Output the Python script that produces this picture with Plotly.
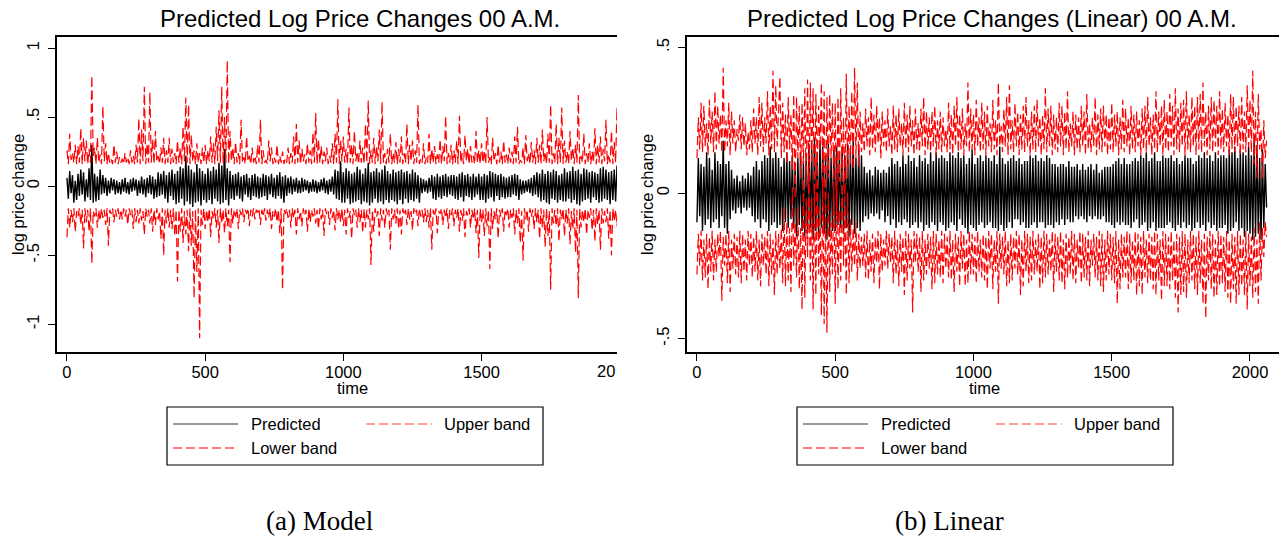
import plotly.graph_objects as go

# ---------------- data (one reading every 5 time units) ----------------
TIME = list(range(0, 2061, 5))

# Panel (a) Model
L_pred = [
    .06, -.09, .11, -.05, .08, -.12, .04, -.10, .09, -.07, .12, -.06, .10, -.11, .05, -.08, .13, -.10, .30, -.12,
    .09, -.11, .07, -.10, .12, -.06, .08, -.05, .06, -.07, .04, -.05, .06, -.03, .05, -.06, .04, -.05, .03, -.06,
    .05, -.04, .06, -.05, .03, -.06, .05, -.04, .06, -.03, .05, -.07, .04, -.05, .07, -.06, .05, -.08, .06, -.05,
    .08, -.06, .07, -.09, .05, -.08, .10, -.07, .09, -.06, .11, -.09, .08, -.12, .10, -.07, .12, -.10, .09, -.13,
    .11, -.12, .14, -.09, .13, -.14, .22, -.11, .15, -.13, .12, -.15, .10, -.12, .16, -.11, .13, -.14, .11, -.10,
    .09, -.12, .13, -.10, .11, -.13, .14, -.09, .12, -.11, .17, -.13, .15, -.12, .27, -.10, .13, -.14, .11, -.09,
    .08, -.10, .09, -.07, .10, -.09, .07, -.11, .08, -.06, .09, -.08, .06, -.10, .08, -.07, .09, -.08, .07, -.09,
    .06, -.08, .09, -.07, .08, -.10, .07, -.06, .09, -.08, .06, -.09, .08, -.07, .10, -.09, .07, -.12, .08, -.07,
    .06, -.05, .07, -.06, .05, -.04, .06, -.05, .04, -.05, .06, -.04, .05, -.03, .04, -.05, .03, -.04, .05, -.04,
    .04, -.05, .03, -.04, .05, -.03, .06, -.05, .04, -.06, .05, -.04, .07, -.06, .12, -.09, .11, -.10, .18, -.12,
    .10, -.12, .13, -.09, .11, -.13, .09, -.12, .10, -.11, .14, -.10, .12, -.13, .09, -.11, .13, -.12, .17, -.14,
    .10, -.12, .11, -.09, .13, -.12, .10, -.11, .12, -.13, .15, -.10, .11, -.12, .09, -.10, .12, -.11, .10, -.13,
    .11, -.10, .12, -.13, .10, -.09, .11, -.12, .09, -.10, .12, -.11, .10, -.09, .08, -.12, .06, -.05, .05, -.04,
    .04, -.05, .06, -.04, .08, -.09, .07, -.10, .09, -.08, .07, -.09, .08, -.07, .09, -.08, .07, -.06, .08, -.07,
    .08, -.09, .07, -.10, .09, -.08, .10, -.11, .08, -.07, .09, -.08, .07, -.10, .09, -.08, .07, -.06, .09, -.10,
    .07, -.10, .09, -.12, .08, -.09, .11, -.08, .10, -.11, .09, -.07, .08, -.10, .09, -.08, .07, -.09, .06, -.08,
    .07, -.08, .08, -.06, .09, -.07, .08, -.10, .05, -.06, .04, -.05, .04, -.04, .05, -.05, .06, -.07, .08, -.06,
    .10, -.08, .09, -.11, .12, -.10, .09, -.12, .11, -.13, .10, -.09, .12, -.10, .11, -.12, .08, -.10, .09, -.11,
    .13, -.11, .10, -.09, .11, -.12, .14, -.10, .11, -.13, .12, -.14, .09, -.11, .13, -.10, .12, -.09, .10, -.12,
    .11, -.08, .10, -.10, .09, -.12, .13, -.11, .14, -.09, .12, -.10, .10, -.13, .11, -.10, .12, -.11, .15, -.12,
    .10, -.09, .11, -.12, .08, -.13, .09, -.10, .11, -.09, .10, -.08, .07,
]
L_up = [
    .26, .16, .38, .19, .24, .17, .30, .16, .29, .17, .42, .16, .35, .18, .33, .16, .27, .17, .80, .22,
    .28, .16, .35, .17, .23, .16, .58, .18, .31, .16, .24, .17, .20, .16, .30, .17, .25, .16, .21, .17,
    .20, .16, .24, .17, .21, .16, .26, .17, .22, .16, .30, .17, .49, .16, .41, .18, .72, .16, .31, .17,
    .68, .17, .34, .16, .40, .18, .22, .16, .28, .17, .35, .16, .26, .17, .35, .16, .27, .17, .24, .16,
    .33, .17, .28, .16, .43, .18, .64, .17, .59, .16, .37, .18, .26, .16, .31, .17, .24, .16, .28, .17,
    .30, .16, .26, .18, .36, .17, .31, .16, .43, .18, .55, .17, .72, .16, .50, .17, .91, .16, .40, .18,
    .28, .16, .32, .17, .24, .16, .48, .17, .21, .16, .36, .18, .22, .16, .28, .17, .22, .16, .30, .17,
    .48, .16, .26, .17, .19, .16, .33, .18, .28, .16, .21, .17, .30, .16, .22, .17, .25, .16, .20, .17,
    .28, .16, .24, .17, .36, .16, .45, .17, .33, .16, .27, .18, .23, .16, .31, .17, .26, .16, .39, .17,
    .53, .16, .34, .17, .29, .16, .25, .18, .28, .16, .22, .17, .31, .16, .38, .17, .63, .16, .33, .18,
    .36, .17, .27, .16, .57, .17, .30, .16, .40, .18, .25, .16, .33, .17, .28, .16, .45, .17, .62, .16,
    .26, .17, .35, .16, .29, .18, .41, .16, .61, .17, .24, .16, .27, .17, .38, .16, .24, .17, .32, .16,
    .27, .17, .36, .16, .24, .17, .45, .16, .30, .18, .33, .16, .26, .17, .59, .16, .20, .17, .31, .16,
    .21, .17, .38, .16, .27, .17, .29, .16, .23, .17, .34, .16, .29, .18, .51, .16, .24, .17, .30, .16,
    .26, .17, .33, .16, .51, .17, .24, .16, .37, .18, .27, .16, .29, .17, .22, .16, .40, .17, .26, .16,
    .31, .17, .26, .16, .50, .17, .21, .16, .35, .18, .24, .16, .30, .17, .25, .16, .33, .17, .23, .16,
    .28, .17, .25, .16, .36, .17, .43, .16, .19, .17, .28, .16, .37, .18, .24, .16, .32, .17, .26, .16,
    .35, .17, .30, .16, .41, .18, .25, .16, .38, .17, .59, .16, .24, .17, .45, .16, .35, .17, .57, .16,
    .33, .17, .25, .16, .40, .18, .28, .16, .30, .17, .66, .16, .22, .17, .38, .16, .24, .17, .31, .16,
    .25, .17, .42, .16, .30, .17, .36, .16, .27, .18, .48, .16, .23, .17, .40, .16, .32, .17, .57, .16,
    .30, .17, .45, .16, .26, .17, .38, .16, .29, .17, .41, .16, .20,
]
L_lo = [
    -.37, -.16, -.30, -.17, -.26, -.16, -.33, -.18, -.22, -.16, -.28, -.17, -.45, -.16, -.26, -.17, -.33, -.16, -.56, -.18,
    -.22, -.16, -.30, -.17, -.25, -.16, -.23, -.17, -.28, -.16, -.43, -.17, -.20, -.16, -.26, -.17, -.22, -.16, -.24, -.17,
    -.24, -.16, -.22, -.17, -.28, -.16, -.21, -.17, -.31, -.16, -.26, -.17, -.27, -.16, -.25, -.18, -.35, -.16, -.22, -.17,
    -.27, -.16, -.33, -.17, -.28, -.16, -.24, -.18, -.38, -.16, -.50, -.17, -.27, -.16, -.30, -.17, -.31, -.16, -.36, -.17,
    -.69, -.17, -.33, -.16, -.41, -.18, -.35, -.17, -.47, -.16, -.43, -.18, -.81, -.17, -.62, -.16, -1.10, -.17, -.28, -.16,
    -.31, -.17, -.26, -.16, -.37, -.18, -.24, -.16, -.30, -.17, -.41, -.16, -.27, -.17, -.34, -.16, -.29, -.17, -.55, -.16,
    -.27, -.17, -.22, -.16, -.31, -.17, -.21, -.16, -.26, -.17, -.20, -.16, -.29, -.17, -.22, -.16, -.24, -.17, -.19, -.16,
    -.28, -.17, -.22, -.16, -.25, -.17, -.23, -.16, -.31, -.18, -.22, -.16, -.26, -.17, -.34, -.16, -.75, -.17, -.20, -.16,
    -.23, -.17, -.30, -.16, -.23, -.17, -.35, -.16, -.24, -.18, -.29, -.16, -.21, -.17, -.33, -.16, -.26, -.17, -.22, -.16,
    -.27, -.17, -.31, -.16, -.24, -.17, -.36, -.16, -.21, -.18, -.28, -.16, -.23, -.17, -.32, -.16, -.24, -.17, -.26, -.16,
    -.29, -.17, -.35, -.16, -.23, -.18, -.38, -.16, -.21, -.17, -.30, -.16, -.26, -.17, -.34, -.16, -.30, -.17, -.24, -.16,
    -.57, -.17, -.33, -.16, -.22, -.18, -.36, -.16, -.25, -.17, -.30, -.16, -.21, -.17, -.46, -.16, -.24, -.17, -.27, -.16,
    -.31, -.17, -.35, -.16, -.21, -.17, -.28, -.16, -.24, -.18, -.32, -.16, -.20, -.17, -.29, -.16, -.22, -.17, -.26, -.16,
    -.26, -.17, -.30, -.16, -.46, -.17, -.22, -.16, -.34, -.18, -.20, -.16, -.28, -.17, -.23, -.16, -.31, -.17, -.21, -.16,
    -.29, -.17, -.23, -.16, -.33, -.17, -.25, -.16, -.37, -.18, -.21, -.16, -.30, -.17, -.24, -.16, -.34, -.17, -.52, -.16,
    -.26, -.17, -.36, -.16, -.29, -.17, -.60, -.16, -.31, -.18, -.24, -.16, -.38, -.17, -.22, -.16, -.33, -.17, -.21, -.16,
    -.30, -.17, -.23, -.16, -.35, -.17, -.27, -.16, -.41, -.18, -.54, -.16, -.24, -.17, -.33, -.16, -.22, -.17, -.31, -.16,
    -.26, -.17, -.38, -.16, -.30, -.17, -.44, -.16, -.36, -.18, -.75, -.16, -.27, -.17, -.29, -.16, -.40, -.17, -.24, -.16,
    -.36, -.17, -.27, -.16, -.42, -.18, -.31, -.16, -.48, -.17, -.81, -.16, -.30, -.17, -.26, -.16, -.35, -.17, -.23, -.16,
    -.32, -.17, -.40, -.16, -.28, -.17, -.46, -.16, -.27, -.18, -.26, -.16, -.38, -.17, -.50, -.16, -.25, -.17, -.29, -.16,
    -.35, -.17, -.26, -.16, -.42, -.17, -.24, -.16, -.38, -.17, -.26, -.16, -.21,
]

# Panel (b) Linear
R_pred = [
    -.10, .12, -.08, .10, -.13, .09, -.11, .14, -.09, .12, -.12, .08, -.10, .14, -.09, .11, -.12, .10, -.08, .18,
    -.12, .10, -.14, .11, -.09, .08, -.06, .05, -.07, .06, -.05, .04, -.07, .06, -.05, .05, -.06, .07, -.05, .06,
    -.08, .09, -.10, .11, -.09, .08, -.12, .11, -.09, .13, -.10, .12, -.13, .16, -.11, .12, -.10, .14, -.12, .12,
    -.11, .09, -.13, .12, -.10, .14, -.12, .11, -.09, .13, -.12, .10, -.15, .12, -.11, .14, -.13, .11, -.15, .13,
    -.14, .17, -.12, .15, -.16, .19, -.13, .14, -.15, .18, -.12, .16, -.14, .13, -.16, .17, -.15, .12, -.13, .15,
    -.13, .16, -.11, .14, -.12, .15, -.14, .13, -.12, .17, -.15, .14, -.11, .18, -.14, .12, -.12, .15, -.13, .13,
    -.10, .09, -.08, .07, -.09, .08, -.07, .06, -.08, .09, -.07, .08, -.09, .07, -.06, .08, -.10, .07, -.08, .09,
    -.11, .12, -.09, .10, -.12, .11, -.10, .09, -.11, .13, -.09, .10, -.10, .13, -.12, .11, -.11, .12, -.10, .09,
    -.12, .13, -.10, .11, -.13, .12, -.11, .10, -.12, .14, -.10, .11, -.11, .14, -.13, .12, -.10, .13, -.11, .12,
    -.13, .11, -.12, .14, -.10, .13, -.11, .12, -.13, .14, -.09, .12, -.11, .13, -.12, .10, -.14, .12, -.11, .15,
    -.12, .10, -.13, .12, -.11, .13, -.10, .11, -.12, .13, -.11, .12, -.10, .11, -.12, .13, -.12, .10, -.13, .16,
    -.11, .12, -.13, .10, -.12, .11, -.10, .12, -.12, .13, -.09, .11, -.09, .12, -.11, .10, -.10, .11, -.12, .11,
    -.12, .13, -.11, .12, -.10, .13, -.12, .11, -.10, .12, -.10, .11, -.12, .13, -.11, .12, -.11, .10, -.12, .10,
    -.10, .09, -.11, .10, -.09, .10, -.11, .09, -.09, .11, -.10, .09, -.10, .09, -.08, .10, -.09, .08, -.08, .10,
    -.09, .08, -.10, .09, -.08, .10, -.09, .08, -.08, .10, -.09, .07, -.09, .08, -.08, .09, -.10, .09, -.10, .09,
    -.11, .10, -.12, .11, -.10, .12, -.11, .10, -.10, .12, -.11, .10, -.11, .10, -.12, .11, -.10, .12, -.09, .11,
    -.12, .13, -.11, .12, -.10, .14, -.13, .11, -.12, .12, -.10, .14, -.13, .11, -.12, .11, -.12, .13, -.12, .12,
    -.11, .12, -.10, .13, -.12, .11, -.13, .12, -.11, .10, -.12, .11, -.10, .13, -.12, .12, -.11, .12, -.13, .10,
    -.12, .11, -.10, .13, -.12, .12, -.11, .14, -.13, .12, -.10, .13, -.12, .11, -.11, .14, -.13, .12, -.12, .13,
    -.12, .13, -.11, .12, -.14, .15, -.13, .14, -.12, .16, -.10, .12, -.13, .15, -.12, .14, -.15, .13, -.13, .16,
    -.14, .13, -.16, .18, -.15, .16, -.14, .12, -.16, .15, -.12, .10, -.05,
]
R_up = [
    .12, .26, .15, .31, .14, .30, .16, .24, .13, .32, .17, .28, .14, .35, .15, .30, .17, .27, .14, .43,
    .14, .25, .16, .31, .13, .28, .17, .25, .14, .22, .18, .27, .15, .26, .16, .24, .13, .21, .15, .25,
    .14, .29, .17, .26, .13, .33, .16, .31, .14, .26, .17, .35, .13, .30, .15, .42, .14, .37, .16, .28,
    .40, .12, .31, .14, .27, .10, .33, .15, .27, .08, .34, -.02, .33, .12, .30, .05, .31, .10, .36, .02,
    .39, .00, .38, .10, .36, -.05, .34, .08, .30, .15, .38, .02, .35, -.10, .33, .05, .34, .12, .31, .02,
    .31, -.08, .33, .04, .36, .06, .26, -.03, .41, .05, .30, .10, .35, .08, .43, .12, .38, .09, .28, .14,
    .24, .14, .29, .16, .26, .13, .33, .15, .27, .14, .30, .17, .26, .12, .28, .16, .25, .14, .29, .16,
    .23, .13, .30, .15, .27, .14, .29, .16, .24, .13, .31, .15, .27, .14, .30, .16, .25, .13, .29, .15,
    .24, .14, .29, .16, .33, .13, .28, .15, .26, .14, .28, .16, .30, .13, .25, .15, .28, .14, .26, .16,
    .22, .14, .31, .15, .27, .13, .30, .16, .33, .14, .27, .15, .29, .13, .24, .16, .38, .14, .29, .15,
    .27, .13, .32, .16, .26, .14, .31, .15, .28, .13, .30, .16, .24, .14, .32, .15, .25, .13, .38, .16,
    .23, .14, .29, .16, .33, .13, .37, .15, .25, .14, .31, .16, .28, .13, .27, .15, .30, .14, .33, .16,
    .25, .13, .28, .15, .30, .14, .32, .16, .26, .13, .27, .15, .36, .14, .29, .16, .30, .13, .27, .15,
    .26, .14, .31, .16, .30, .13, .28, .15, .35, .14, .24, .16, .28, .13, .27, .15, .26, .14, .30, .16,
    .28, .13, .34, .15, .24, .14, .26, .16, .33, .13, .27, .15, .29, .14, .30, .16, .27, .13, .26, .15,
    .31, .14, .27, .16, .28, .13, .26, .15, .32, .14, .29, .16, .26, .13, .30, .15, .27, .14, .28, .16,
    .25, .13, .29, .15, .30, .14, .33, .16, .26, .13, .27, .15, .35, .14, .28, .16, .30, .13, .32, .15,
    .28, .14, .34, .16, .30, .13, .36, .15, .29, .14, .31, .16, .32, .13, .35, .15, .27, .14, .33, .16,
    .30, .13, .33, .15, .34, .14, .38, .16, .28, .13, .30, .15, .33, .14, .32, .16, .30, .13, .35, .15,
    .29, .14, .31, .16, .27, .13, .34, .15, .33, .14, .30, .16, .30, .13, .33, .15, .28, .14, .37, .16,
    .32, .14, .42, .10, .28, .05, .34, .15, .22, .05, .25, .12, .18,
]
R_lo = [
    -.28, -.14, -.25, -.13, -.30, -.16, -.29, -.14, -.33, -.15, -.27, -.13, -.30, -.16, -.27, -.14, -.22, -.13, -.37, -.15,
    -.25, -.14, -.31, -.13, -.34, -.16, -.26, -.14, -.28, -.15, -.29, -.13, -.31, -.14, -.27, -.16, -.30, -.13, -.25, -.14,
    -.29, -.15, -.27, -.13, -.30, -.16, -.32, -.14, -.25, -.15, -.28, -.13, -.32, -.14, -.28, -.16, -.35, -.13, -.28, -.14,
    -.26, -.12, -.31, -.05, -.32, -.10, -.30, -.12, -.34, .02, -.25, -.10, -.29, -.05, -.33, -.12, -.40, .05, -.36, -.02,
    -.22, .08, -.30, -.02, -.40, .02, -.35, .12, -.28, -.05, -.42, .05, -.45, -.08, -.48, .00, -.34, -.10, -.28, .02,
    -.38, .02, -.33, -.06, -.30, .10, -.25, -.04, -.35, .00, -.31, -.09, -.27, -.12, -.25, -.10, -.30, -.14, -.26, -.15,
    -.25, -.14, -.29, -.13, -.30, -.16, -.27, -.14, -.31, -.15, -.24, -.13, -.33, -.14, -.27, -.16, -.25, -.13, -.26, -.14,
    -.24, -.15, -.31, -.13, -.28, -.16, -.32, -.14, -.27, -.15, -.35, -.13, -.30, -.14, -.26, -.16, -.41, -.13, -.24, -.14,
    -.27, -.15, -.34, -.13, -.30, -.16, -.28, -.14, -.26, -.15, -.33, -.13, -.31, -.14, -.28, -.16, -.29, -.13, -.31, -.14,
    -.26, -.15, -.29, -.13, -.30, -.16, -.34, -.14, -.27, -.15, -.32, -.13, -.26, -.14, -.32, -.16, -.31, -.13, -.28, -.14,
    -.28, -.15, -.31, -.13, -.27, -.16, -.29, -.14, -.30, -.15, -.33, -.13, -.26, -.14, -.33, -.16, -.27, -.13, -.38, -.14,
    -.26, -.15, -.28, -.13, -.32, -.16, -.31, -.14, -.30, -.15, -.26, -.13, -.28, -.14, -.35, -.16, -.32, -.13, -.27, -.14,
    -.31, -.15, -.30, -.13, -.28, -.16, -.27, -.14, -.33, -.15, -.31, -.13, -.29, -.14, -.28, -.16, -.27, -.13, -.34, -.14,
    -.27, -.15, -.30, -.13, -.31, -.16, -.33, -.14, -.29, -.15, -.28, -.13, -.30, -.14, -.31, -.16, -.26, -.13, -.31, -.14,
    -.29, -.15, -.30, -.13, -.32, -.16, -.25, -.14, -.29, -.15, -.30, -.13, -.32, -.14, -.34, -.16, -.30, -.13, -.28, -.14,
    -.30, -.15, -.31, -.13, -.38, -.16, -.33, -.14, -.29, -.15, -.29, -.13, -.33, -.14, -.31, -.16, -.30, -.13, -.35, -.14,
    -.32, -.15, -.35, -.13, -.29, -.16, -.31, -.14, -.30, -.15, -.33, -.13, -.35, -.14, -.30, -.16, -.37, -.13, -.32, -.14,
    -.32, -.15, -.33, -.13, -.30, -.16, -.36, -.14, -.41, -.15, -.35, -.13, -.34, -.14, -.36, -.16, -.31, -.13, -.30, -.14,
    -.33, -.15, -.35, -.13, -.31, -.16, -.38, -.14, -.43, -.15, -.30, -.13, -.33, -.14, -.36, -.16, -.35, -.13, -.32, -.14,
    -.31, -.15, -.34, -.13, -.36, -.16, -.38, -.14, -.33, -.15, -.38, -.13, -.35, -.14, -.32, -.16, -.35, -.13, -.40, -.14,
    -.32, -.15, -.36, -.12, -.34, -.16, -.38, -.10, -.30, -.12, -.22, -.10, -.15,
]

TITLES = ["Predicted Log Price Changes 00 A.M.", "Predicted Log Price Changes (Linear) 00 A.M."]
CAPTIONS = ["(a) Model", "(b) Linear"]
LEGEND_NAMES = ["Predicted", "Upper band", "Lower band"]
L_YTICKS = [-1, -0.5, 0, 0.5, 1]
L_YTEXT = ["-1", "-.5", "0", ".5", "1"]
R_YTICKS = [-0.5, 0, 0.5]
R_YTEXT = ["-.5", "0", ".5"]
XTICKS_L = [0, 500, 1000, 1500]
XTICKS_R = [0, 500, 1000, 1500, 2000]

# ---------------- figure ----------------
# the page body has an 8px margin; lay out in page pixels and convert
OFF = 8
W, H = 1287 - OFF, 539 - OFF
def X(px): return (px - OFF) / W
def Y(py): return 1 - (py - OFF) / H

SANS = "Liberation Sans, Arial, Helvetica, sans-serif"
SERIF = "Liberation Serif, Times New Roman, serif"
DASH = "9px,4px"

fig = go.Figure()
panels = [("x", "y", L_pred, L_up, L_lo), ("x2", "y2", R_pred, R_up, R_lo)]
for xa, ya, p, u, lo in panels:
    for vals, name, color, dash, lw in [(p, LEGEND_NAMES[0], "black", "solid", 1.4),
                                        (u, LEGEND_NAMES[1], "red", DASH, 1.2),
                                        (lo, LEGEND_NAMES[2], "red", DASH, 1.2)]:
        n = min(len(vals), len(TIME))
        fig.add_trace(go.Scatter(x=TIME[:n], y=vals[:n], mode="lines", xaxis=xa, yaxis=ya, name=name,
                                 line=dict(color=color, width=lw, dash=dash, simplify=False),
                                 showlegend=False))

ydom = [Y(352), Y(37)]
axis_common = dict(showgrid=False, zeroline=False, showline=True, linecolor="black", linewidth=1.5,
                   ticks="outside", ticklen=7, tickwidth=1.2, tickcolor="black",
                   tickfont=dict(family=SANS, size=16.5, color="black"))
fig.update_layout(
    width=W, height=H, margin=dict(l=0, r=0, t=0, b=0),
    paper_bgcolor="white", plot_bgcolor="white", showlegend=False,
    xaxis=dict(domain=[X(57), X(617)], range=[-36, 1990], tickvals=XTICKS_L, mirror=True,
               anchor="y", ticklabelstandoff=-3, **axis_common),
    yaxis=dict(domain=ydom, range=[-1.2, 1.08], tickvals=L_YTICKS, ticktext=L_YTEXT, tickangle=-90,
               anchor="x", mirror=False, ticklabelstandoff=3, **axis_common),
    xaxis2=dict(domain=[X(687), X(1284)], range=[-36, 2123], tickvals=XTICKS_R, mirror=True,
                anchor="y2", ticklabelstandoff=-3, **axis_common),
    yaxis2=dict(domain=ydom, range=[-0.546, 0.536], tickvals=R_YTICKS, ticktext=R_YTEXT, tickangle=-90,
                anchor="x2", mirror=True, ticklabelstandoff=3, **axis_common),
)

ann = []
def text(px, py, s, size, family=SANS, xanchor="center", angle=0):
    ann.append(dict(x=X(px), y=Y(py), xref="paper", yref="paper", text=s, showarrow=False,
                    xanchor=xanchor, yanchor="middle", textangle=angle,
                    font=dict(family=family, size=size, color="black")))

shapes = []
for i, off in enumerate([0, 630]):
    text([360, 992][i], 19, TITLES[i], 24)
    text([353, 984][i], 388, "time", 16.5)
    text([18, 647][i], 195, "log price change", 16.5, angle=-90)
    text(319 + off, 521, CAPTIONS[i], 27, family=SERIF)
    # legend box
    shapes.append(dict(type="rect", xref="paper", yref="paper", x0=X(167 + off), x1=X(543 + off),
                       y0=Y(465), y1=Y(407), line=dict(color="black", width=1.2), fillcolor="white"))
    shapes.append(dict(type="line", xref="paper", yref="paper", x0=X(173 + off), x1=X(238 + off),
                       y0=Y(424), y1=Y(424), line=dict(color="#333333", width=1.2)))
    shapes.append(dict(type="line", xref="paper", yref="paper", x0=X(366 + off), x1=X(432 + off),
                       y0=Y(424), y1=Y(424), line=dict(color="#ff4040", width=1.2, dash=DASH)))
    shapes.append(dict(type="line", xref="paper", yref="paper", x0=X(173 + off), x1=X(238 + off),
                       y0=Y(448), y1=Y(448), line=dict(color="red", width=1.2, dash=DASH)))
    text(249 + off, 424, LEGEND_NAMES[0], 16.5, xanchor="left")
    text(442 + off, 424, LEGEND_NAMES[1], 16.5, xanchor="left")
    text(249 + off, 448, LEGEND_NAMES[2], 16.5, xanchor="left")

# clipped "2000" tick label at the right edge of panel (a)
text(617, 371, "20", 16.5, xanchor="right")

fig.update_layout(annotations=ann, shapes=shapes)
fig.write_html("out.html")
